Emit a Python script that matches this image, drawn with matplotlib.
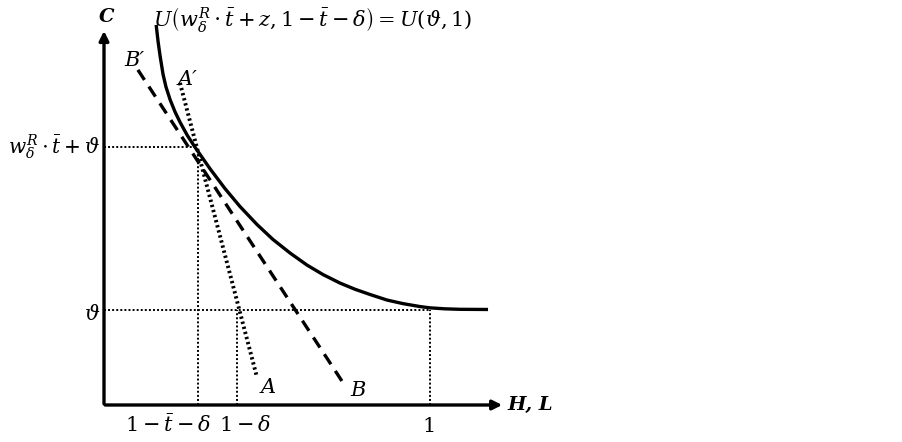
import matplotlib
matplotlib.use("Agg")
import matplotlib.pyplot as plt

plt.rcParams['mathtext.fontset'] = 'dejavuserif'
plt.rcParams['font.family'] = 'DejaVu Serif'

# indifference curve U(w*t + z, 1 - t - delta) = U(theta, 1)
curve_x = [0.160, 0.166, 0.172, 0.181, 0.190, 0.203, 0.218, 0.233, 0.255,
           0.279, 0.325, 0.371, 0.417, 0.469, 0.518, 0.571, 0.623, 0.672,
           0.724, 0.770, 0.816, 0.868, 0.917, 0.969, 1.000, 1.046, 1.092, 1.178]
curve_y = [1.166, 1.114, 1.071, 1.015, 0.976, 0.936, 0.899, 0.868, 0.828,
           0.791, 0.725, 0.664, 0.609, 0.554, 0.508, 0.466, 0.429, 0.400,
           0.374, 0.355, 0.339, 0.322, 0.311, 0.302, 0.298, 0.295, 0.2935, 0.293]

# budget lines
line_a_x = [0.233, 0.469]
line_a_y = [0.988, 0.086]
line_b_x = [0.104, 0.742]
line_b_y = [1.028, 0.055]

# reference levels
x_low = 0.288      # 1 - t - delta
x_mid = 0.407      # 1 - delta
x_one = 1.0
y_high = 0.791     # w*t + theta
y_theta = 0.291    # theta

fig = plt.figure(figsize=(9.02, 4.42), dpi=100)
ax = fig.add_axes([0, 0, 1, 1])
ax.set_xlim(-104 / 326, 798 / 326)
ax.set_ylim(-37 / 326, 405 / 326)
ax.axis('off')

# axes with arrows
ax.annotate('', xy=(0, 1.156), xytext=(0, -0.005),
            arrowprops=dict(arrowstyle='-|>', lw=2.4, color='black', mutation_scale=14))
ax.annotate('', xy=(1.230, 0), xytext=(-0.005, 0),
            arrowprops=dict(arrowstyle='-|>', lw=2.4, color='black', mutation_scale=14))

# dotted guide lines
dot = dict(color='black', lw=1.4, linestyle=(0, (1, 1.1)))
ax.plot([0, x_low - 0.015], [y_high, y_high], **dot)
ax.plot([x_low, x_low], [0, y_high - 0.01], **dot)
ax.plot([0, x_one], [y_theta, y_theta], **dot)
ax.plot([x_mid, x_mid], [0, y_theta], **dot)
ax.plot([x_one, x_one], [0, y_theta], **dot)

# curve and budget lines
ax.plot(curve_x, curve_y, color='black', lw=2.4, solid_capstyle='butt',
        solid_joinstyle='round')
ax.plot(line_a_x, line_a_y, color='black', lw=2.8, linestyle=(0, (0.6, 0.75)))
ax.plot(line_b_x, line_b_y, color='black', lw=2.4, linestyle=(0, (3.6, 2.4)))

fs = 15
ax.text(0.150, 1.181,
        r'$U\left(w_\delta^R \cdot \bar{t} + z, 1 - \bar{t} - \delta\right) = U(\vartheta, 1)$',
        fontsize=fs, ha='left', va='center')
ax.text(0.009, 1.190, 'C', fontsize=14, fontweight='bold', fontstyle='italic',
        ha='center', va='center')
ax.text(1.239, 0.0, 'H, L', fontsize=14, fontweight='bold', fontstyle='italic',
        ha='left', va='center')

ax.text(0.196, -0.061, r'$1 - \bar{t} - \delta$', fontsize=fs, ha='center', va='center')
ax.text(0.433, -0.061, r'$1 - \delta$', fontsize=fs, ha='center', va='center')
ax.text(0.994, -0.065, r'$1$', fontsize=fs, ha='center', va='center')

ax.text(-0.012, y_high, r'$w_\delta^R \cdot \bar{t} + \vartheta$', fontsize=14.5,
        ha='right', va='center')
ax.text(-0.012, 0.279, r'$\vartheta$', fontsize=fs, ha='right', va='center')

ax.text(0.255, 0.997, "A\u2032", fontsize=fs, fontstyle='italic', ha='center', va='center')
ax.text(0.092, 1.058, "B\u2032", fontsize=fs, fontstyle='italic', ha='center', va='center')
ax.text(0.503, 0.055, 'A', fontsize=fs, fontstyle='italic', ha='center', va='center')
ax.text(0.779, 0.046, 'B', fontsize=fs, fontstyle='italic', ha='center', va='center')

fig.savefig('out.png', dpi=100)
